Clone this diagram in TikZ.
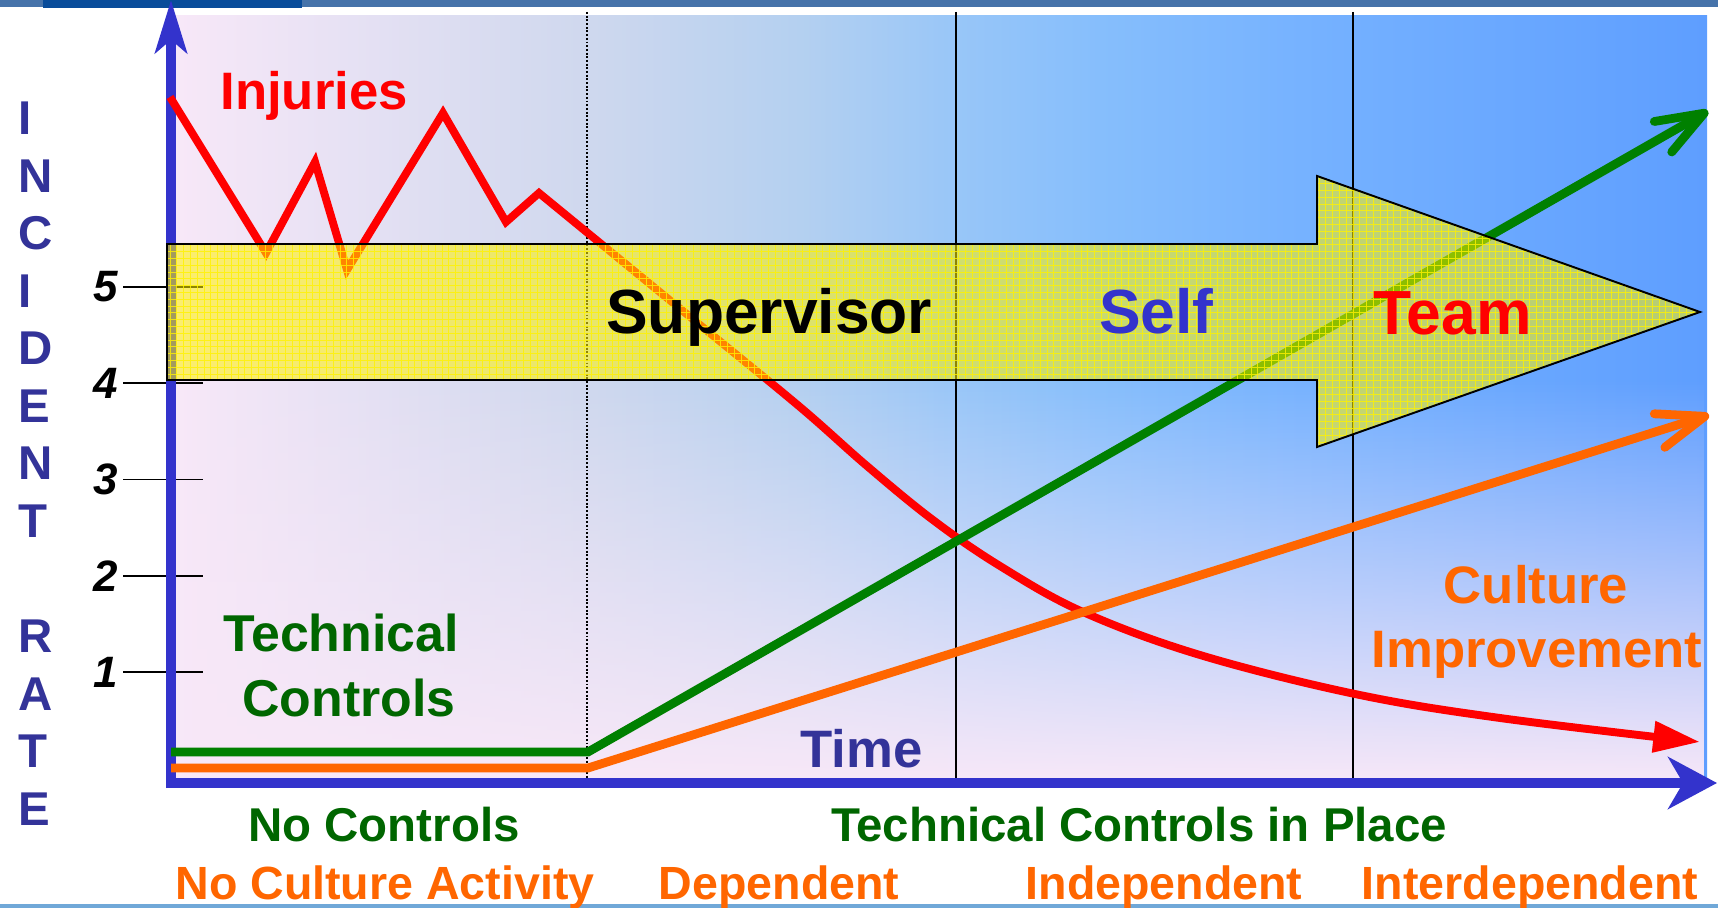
\documentclass[tikz,border=0pt]{standalone}
\usepackage{fontspec}
\setmainfont{Liberation Sans}
\usetikzlibrary{arrows.meta}
\usetikzlibrary{fadings}
\definecolor{axisblue}{HTML}{3333CC}
\definecolor{letterblue}{HTML}{333399}
\definecolor{textgreen}{HTML}{006600}
\definecolor{linegreen}{HTML}{008000}
\definecolor{cultorange}{HTML}{FF6600}
\definecolor{barblue}{HTML}{4673AA}
\definecolor{bardark}{HTML}{084C9A}
\definecolor{bgleft}{HTML}{F8E8F8}
\definecolor{bgA}{HTML}{CFD8EE}
\definecolor{bgB}{HTML}{B4D0F0}
\definecolor{bgC}{HTML}{98C6F8}
\definecolor{bgD}{HTML}{86BEFC}
\definecolor{bgE}{HTML}{76B2FF}
\definecolor{bgright}{HTML}{5E9EFF}
\definecolor{stripblue}{HTML}{70A8D8}
\pgfdeclarehorizontalshading{skyshade}{100bp}{color(0bp)=(bgleft); color(25bp)=(bgleft); color(38.5bp)=(bgA); color(45.5bp)=(bgB); color(50.6bp)=(bgC); color(55.2bp)=(bgD); color(61.8bp)=(bgE); color(75bp)=(bgright); color(100bp)=(bgright)}
\tikzfading[name=fadeup,top color=transparent!100,bottom color=transparent!0]
\newcommand{\bandshape}{(167,244) -- (1317,244) -- (1317,176) -- (1700,312) -- (1317,447) -- (1317,380) -- (167,380) -- cycle}

\begin{document}
\begin{tikzpicture}[x=0.02cm,y=-0.02cm,
		txt/.style={inner sep=0pt,font=\fontsize{#1}{#1}\selectfont\bfseries},
		digit/.style={inner sep=0pt,anchor=east,font=\fontsize{25}{25}\selectfont\bfseries\itshape},
		axisline/.style={axisblue,line width=5.7pt},
		trend/.style={line width=5pt,-{Straight Barb[length=27pt,width=20pt,round]}}]
	\useasboundingbox (0,0) rectangle (1718,908);
	% background and frame bars
	\shade[shading=skyshade] (171,16) rectangle (1707,783);
	\fill[bgleft,path fading=fadeup] (171,380) rectangle (1707,783);
	\fill[barblue] (0,0) rectangle (1718,7);
	\fill[bardark] (43,0) rectangle (302,8);
	\fill[stripblue] (0,904) rectangle (1718,908);
	% phase separators
	\draw[densely dotted,line width=1.1pt] (587,12) -- (587,780);
	\draw[line width=1.2pt] (956,12) -- (956,788);
	\draw[line width=1.2pt] (1353,12) -- (1353,788);
	% ticks
	\foreach \n in {1,...,5} {
		\draw[line width=0.9pt] (123,{672-96.25*(\n-1)}) -- (203,{672-96.25*(\n-1)});
		\node[digit] (n\n) at (118,{672-96.25*(\n-1)}) {\n};
	}
	% axes
	\draw[axisline,-{Stealth[length=30pt,width=18pt,inset=7.4pt]}] (171,788) -- (171,0);
	\draw[axisline,-{Stealth[length=27.8pt,width=29.5pt,inset=8.5pt]}] (166,783) -- (1717,783);
	% curves
	\draw[red,line width=4.5pt,-{Triangle[length=26.6pt,width=17pt]}] (170,97) -- (266,253) -- (315,162) -- (347,270) -- (443,113) -- (506,222) -- (539,193) -- (600,243)
		-- plot[smooth,tension=0.6] coordinates {(600,243) (700,325) (800,407) (867,466) (933,520) (1000,566) (1083,612) (1200,655) (1355,694) (1500,718) (1700,742)};
	\draw[trend,linegreen] (171,752) -- (588,752) -- (1708,111);
	\draw[trend,cultorange] (171,768) -- (588,768) -- (1709,415);
	% big arrow
	\fill[yellow,opacity=0.55] \bandshape;
	\begin{scope}
		\clip \bandshape;
		\draw[yellow,line width=0.4pt,opacity=0.8,step=0.136cm] (167,447) grid (1700,176);
	\end{scope}
	\draw[line width=1.1pt] \bandshape;
	\node[txt=35.5,anchor=base west] (supervisor) at (606,334) {Supervisor};
	\node[txt=35.5,anchor=base west,axisblue] (self) at (1099,334) {Self};
	\node[txt=35.5,anchor=base west,red] (team) at (1373,335) {Team};
	% labels
	\node[txt=30,anchor=base west,red] (injuries) at (220,110) {Injuries};
	\node[txt=29.5,anchor=base,textgreen] (tech1) at (341,652) {Technical};
	\node[txt=29.5,anchor=base,textgreen] (tech2) at (349,716) {Controls};
	\node[txt=30,anchor=base west,letterblue] (time) at (800,767) {Time};
	\node[txt=30,anchor=base,cultorange] (cult1) at (1536,603) {Culture};
	\node[txt=30,anchor=base,cultorange] (cult2) at (1537,667) {Improvement};
	\foreach \ch/\k in {I/0,N/1,C/2,I/3,D/4,E/5,N/6,T/7,R/9,A/10,T/11,E/12}
		\node[txt=27,anchor=base west,letterblue] (v\k) at (18,{135+57.5*\k}) {\ch};
	\node[txt=27,anchor=base,textgreen] (noctrl) at (384,841) {No Controls};
	\node[txt=27,anchor=base,textgreen] (inplace) at (1139,841) {Technical Controls in Place};
	\node[txt=26.5,anchor=base,cultorange] (noculture) at (385,899) {No Culture Activity};
	\node[txt=26.5,anchor=base,cultorange] (dep) at (779,899) {Dependent};
	\node[txt=26.5,anchor=base,cultorange] (indep) at (1164,899) {Independent};
	\node[txt=26.5,anchor=base,cultorange] (interdep) at (1530,899) {Interdependent};
\end{tikzpicture}
\end{document}
